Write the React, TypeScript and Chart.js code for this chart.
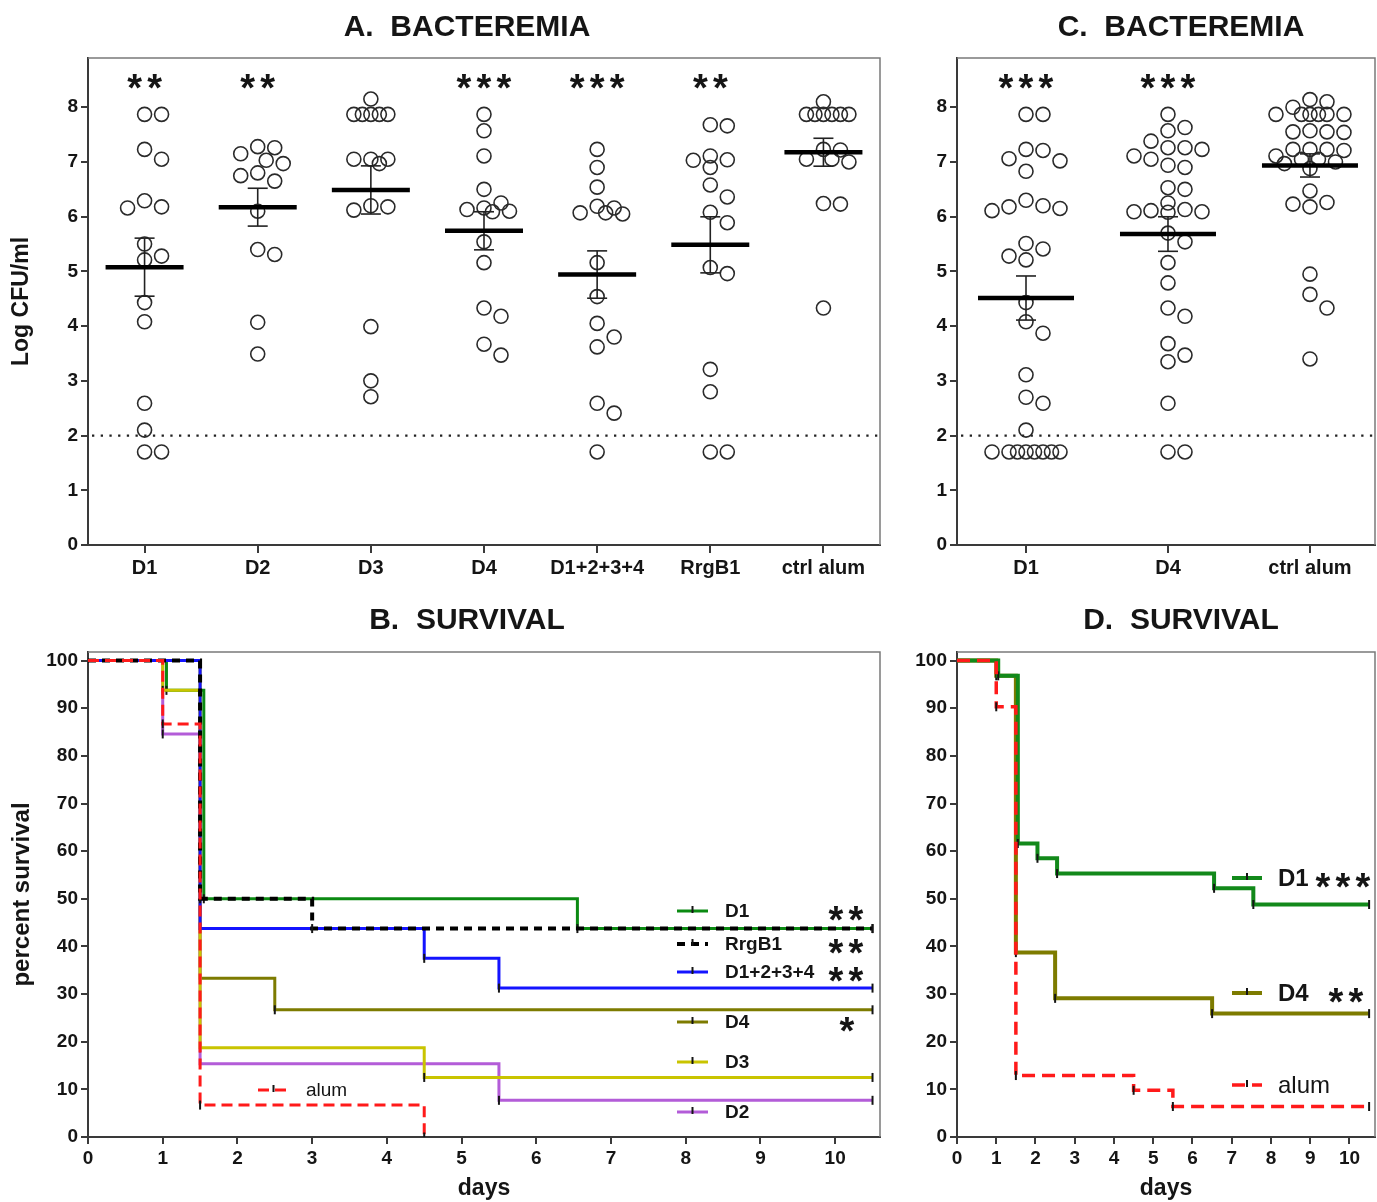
import React, { useEffect, useRef } from "react";
import { Chart, registerables } from "chart.js";

Chart.register(...registerables);

const FONT = "'Liberation Sans', Arial, Helvetica, sans-serif";
const INK = "#151515";
const AXIS = "#3a3a3a";

// ================= A. BACTEREMIA (log CFU/ml per mouse) =================
const catsA = ["D1", "D2", "D3", "D4", "D1+2+3+4", "RrgB1", "ctrl alum"];
const bactA_D1 = [7.87, 7.87, 7.23, 7.05, 6.29, 6.18, 6.16, 5.5, 5.28, 5.21, 4.43, 4.08, 2.59, 2.1, 1.7, 1.7];
const bactA_D2 = [7.28, 7.26, 7.15, 7.03, 6.97, 6.8, 6.75, 6.65, 6.1, 5.4, 5.31, 4.07, 3.49];
const bactA_D3 = [8.15, 7.87, 7.87, 7.87, 7.87, 7.87, 7.05, 7.05, 7.05, 6.97, 6.2, 6.18, 6.12, 3.99, 3.0, 2.71];
const bactA_D4 = [7.87, 7.57, 7.11, 6.5, 6.25, 6.16, 6.13, 6.1, 6.09, 5.54, 5.16, 4.33, 4.18, 3.67, 3.47];
const bactA_D1234 = [7.23, 6.9, 6.54, 6.19, 6.16, 6.07, 6.07, 6.05, 5.16, 4.54, 4.05, 3.8, 3.62, 2.59, 2.41, 1.7];
const bactA_RrgB1 = [7.68, 7.66, 7.11, 7.04, 7.03, 6.9, 6.58, 6.36, 6.08, 5.89, 5.07, 4.96, 3.21, 2.8, 1.7, 1.7];
const bactA_alum = [8.1, 7.87, 7.87, 7.87, 7.87, 7.87, 7.87, 7.23, 7.22, 7.05, 7.05, 7.0, 6.24, 6.23, 4.33];
const starsA = ["**", "**", "", "***", "***", "**", ""];

// ================= C. BACTEREMIA =================
const catsC = ["D1", "D4", "ctrl alum"];
const bactC_D1 = [7.87, 7.87, 7.23, 7.21, 7.06, 7.02, 6.83, 6.3, 6.2, 6.18, 6.15, 6.11, 5.51, 5.41, 5.28, 5.21, 4.43, 4.08, 3.87, 3.11, 2.7, 2.59, 2.1, 1.7, 1.7, 1.7, 1.7, 1.7, 1.7, 1.7, 1.7];
const bactC_D4 = [7.87, 7.63, 7.57, 7.38, 7.26, 7.26, 7.23, 7.11, 7.05, 6.94, 6.9, 6.53, 6.5, 6.25, 6.13, 6.11, 6.09, 6.09, 6.08, 5.7, 5.54, 5.16, 4.79, 4.33, 4.18, 3.68, 3.47, 3.35, 2.59, 1.7, 1.7];
const bactC_alum = [8.14, 8.1, 8.0, 7.87, 7.87, 7.87, 7.87, 7.87, 7.87, 7.57, 7.55, 7.55, 7.54, 7.23, 7.23, 7.23, 7.21, 7.11, 7.05, 7.05, 7.0, 6.97, 6.88, 6.47, 6.26, 6.23, 6.18, 4.95, 4.58, 4.33, 3.4];
const starsC = ["***", "***", ""];

const bactTicks = [0, 1, 2, 3, 4, 5, 6, 7, 8];
const detectionLimit = 2;
const BACT_MAX = 8.9;

// ================= B. SURVIVAL =================
const dayTicks = [0, 1, 2, 3, 4, 5, 6, 7, 8, 9, 10];
const survTicks = [0, 10, 20, 30, 40, 50, 60, 70, 80, 90, 100];

const daysB_alum = [0, 1, 1.5, 4.5];
const survB_alum = [100, 86.7, 6.7, 0];
const daysB_RrgB1 = [0, 1.5, 3, 10.5];
const survB_RrgB1 = [100, 50, 43.75, 43.75];
const daysB_D1234 = [0, 1.5, 4.5, 5.5, 10.5];
const survB_D1234 = [100, 43.75, 37.5, 31.25, 31.25];
const daysB_D3 = [0, 1, 1.5, 4.5, 10.5];
const survB_D3 = [100, 93.75, 18.75, 12.5, 12.5];
const daysB_D2 = [0, 1, 1.5, 5.5, 10.5];
const survB_D2 = [100, 84.6, 15.4, 7.7, 7.7];
const daysB_D4 = [0, 1.5, 2.5, 10.5];
const survB_D4 = [100, 33.3, 26.7, 26.7];
const daysB_D1 = [0, 1.05, 1.55, 6.55, 10.5];
const survB_D1 = [100, 93.75, 50, 43.75, 43.75];
const legendB_labels = ["D1", "RrgB1", "D1+2+3+4", "D4", "D3", "D2", "alum"];
const legendB_stars = ["**", "**", "**", "*", "", "", ""];

// ================= D. SURVIVAL =================
const daysD_alum = [0, 1, 1.5, 4.5, 5.5, 10.5];
const survD_alum = [100, 90.3, 12.9, 9.8, 6.4, 6.4];
const daysD_D1 = [0, 1.05, 1.55, 2.05, 2.55, 6.55, 7.55, 10.5];
const survD_D1 = [100, 96.8, 61.6, 58.5, 55.3, 52.2, 48.8, 48.8];
const daysD_D4 = [0, 1, 1.5, 2.5, 6.5, 10.5];
const survD_D4 = [100, 96.8, 38.7, 29.1, 25.9, 25.9];
const legendD_labels = ["D1", "D4", "alum"];
const legendD_stars = ["***", "**", ""];

// ================= layout =================
type Area = { left: number; top: number; right: number; bottom: number };
type Box = { x: number; y: number; w: number; h: number; area: Area };
const BOX_A: Box = { x: 0, y: 0, w: 895, h: 600, area: { left: 88, top: 58, right: 880, bottom: 545 } };
const BOX_C: Box = { x: 895, y: 0, w: 489, h: 600, area: { left: 62, top: 58, right: 480, bottom: 545 } };
const BOX_B: Box = { x: 0, y: 600, w: 895, h: 602, area: { left: 88, top: 52, right: 880, bottom: 537 } };
const BOX_D: Box = { x: 895, y: 600, w: 489, h: 602, area: { left: 62, top: 52, right: 480, bottom: 537 } };

// ================= helpers =================
function mean(a: number[]) {
  return a.reduce((s, v) => s + v, 0) / a.length;
}
function sem(a: number[]) {
  const m = mean(a);
  const v = a.reduce((s, x) => s + (x - m) * (x - m), 0) / (a.length - 1);
  return Math.sqrt(v) / Math.sqrt(a.length);
}

function swarm(vals: number[], o: { step: number; maxOff: number; pxPerCat: number; pxPerUnit: number; diam: number }) {
  const order = vals.map((_, i) => i).sort((a, b) => vals[b] - vals[a]);
  const cands: number[] = [0];
  for (let k = 1; k * o.step <= o.maxOff + 0.01; k++) cands.push(k * o.step, -k * o.step);
  for (let k = 0; (k + 0.5) * o.step <= o.maxOff + 0.01; k++) cands.push((k + 0.5) * o.step, -(k + 0.5) * o.step);
  const placed: { x: number; y: number }[] = [];
  const out = new Array(vals.length).fill(0);
  for (const i of order) {
    const y = vals[i] * o.pxPerUnit;
    let best = 0;
    let bestD = -1;
    for (const c of cands) {
      let dmin = Infinity;
      for (const p of placed) dmin = Math.min(dmin, Math.hypot(c - p.x, y - p.y));
      if (dmin >= o.diam) {
        best = c;
        break;
      }
      if (dmin > bestD + 0.5) {
        bestD = dmin;
        best = c;
      }
    }
    placed.push({ x: best, y });
    out[i] = best / o.pxPerCat;
  }
  return out;
}

function seg(ctx: CanvasRenderingContext2D, x1: number, y1: number, x2: number, y2: number) {
  ctx.beginPath();
  ctx.moveTo(x1, y1);
  ctx.lineTo(x2, y2);
  ctx.stroke();
}

function drawStars(ctx: CanvasRenderingContext2D, count: number, cx: number, cy: number, gap: number, size: number) {
  if (!count) return;
  ctx.save();
  ctx.font = `bold ${size}px ${FONT}`;
  ctx.fillStyle = INK;
  ctx.textAlign = "center";
  ctx.textBaseline = "alphabetic";
  const m = ctx.measureText("*");
  const base = cy + (m.actualBoundingBoxAscent - m.actualBoundingBoxDescent) / 2;
  for (let k = 0; k < count; k++) ctx.fillText("*", cx + (k - (count - 1) / 2) * gap, base);
  ctx.restore();
}

const framePlugin = {
  id: "frameBox",
  beforeDatasetsDraw(chart: any) {
    const { ctx, chartArea: a } = chart;
    ctx.save();
    ctx.strokeStyle = "#7a7a7a";
    ctx.lineWidth = 1.5;
    ctx.beginPath();
    ctx.moveTo(a.left, a.top);
    ctx.lineTo(a.right, a.top);
    ctx.lineTo(a.right, a.bottom);
    ctx.stroke();
    ctx.restore();
  },
};

function titlePlugin(text: string, x: number, y: number) {
  return {
    id: "panelTitle",
    afterDraw(chart: any) {
      const ctx = chart.ctx;
      ctx.save();
      ctx.font = `bold 30px ${FONT}`;
      ctx.fillStyle = INK;
      ctx.textAlign = "center";
      ctx.textBaseline = "middle";
      ctx.fillText(text, x, y);
      ctx.restore();
    },
  };
}

function layoutFor(box: Box) {
  return { padding: { left: 0, top: box.area.top, right: box.w - box.area.right, bottom: 0 } };
}

const tickFont = { family: FONT, size: 19, weight: "bold" as const };
const catFont = { family: FONT, size: 20, weight: "bold" as const };

function axisBase(tickLen: number) {
  return {
    grid: { display: true, drawOnChartArea: false, drawTicks: true, tickLength: tickLen, color: AXIS, lineWidth: 2 },
    border: { display: true, color: AXIS, width: 2 },
  };
}

// ================= dot plot (A, C) =================
function dotConfig(box: Box, cats: string[], groups: number[][], stars: string[], yTitle: string | null, title: string, titleX: number, maxOffPx: number, xMin: number, xMax: number, meanHalfPx: number): any {
  const a = box.area;
  const pxPerCat = (a.right - a.left) / (xMax - xMin);
  const pxPerUnit = (a.bottom - a.top) / BACT_MAX;
  const points: { x: number; y: number }[] = [];
  groups.forEach((g, i) => {
    const offs = swarm(g, { step: 17, maxOff: maxOffPx, pxPerCat, pxPerUnit, diam: 15 });
    g.forEach((v, j) => points.push({ x: i + offs[j], y: v }));
  });

  const extras = {
    id: "dotExtras",
    beforeDatasetsDraw(chart: any) {
      const { ctx, chartArea } = chart;
      const y = chart.scales.y.getPixelForValue(detectionLimit);
      ctx.save();
      ctx.strokeStyle = "#222";
      ctx.lineWidth = 2.3;
      ctx.setLineDash([2.3, 6.4]);
      seg(ctx, chartArea.left + 4, y, chartArea.right, y);
      ctx.restore();
    },
    afterDatasetsDraw(chart: any) {
      const ctx = chart.ctx;
      const xs = chart.scales.x;
      const ys = chart.scales.y;
      groups.forEach((g, i) => {
        const m = mean(g);
        const s = sem(g);
        const cx = xs.getPixelForValue(i);
        ctx.save();
        ctx.strokeStyle = "#222";
        ctx.lineWidth = 1.6;
        const yt = ys.getPixelForValue(m + s);
        const yb = ys.getPixelForValue(m - s);
        seg(ctx, cx, yt, cx, yb);
        seg(ctx, cx - 10, yt, cx + 10, yt);
        seg(ctx, cx - 10, yb, cx + 10, yb);
        ctx.strokeStyle = "#000";
        ctx.lineWidth = 4.5;
        const my = ys.getPixelForValue(m);
        seg(ctx, cx - meanHalfPx, my, cx + meanHalfPx, my);
        ctx.restore();
        drawStars(ctx, stars[i].length, cx, ys.getPixelForValue(8.47), 20, 38);
      });
    },
  };

  const yAxis: any = {
    min: 0,
    max: BACT_MAX,
    afterBuildTicks: (s: any) => {
      s.ticks = bactTicks.map((v) => ({ value: v }));
    },
    ticks: { font: tickFont, color: INK, padding: 3 },
    ...axisBase(7),
    afterFit: (s: any) => {
      s.width = a.left;
    },
  };
  if (yTitle) {
    yAxis.title = { display: true, text: yTitle, font: { family: FONT, size: 23, weight: "bold" }, color: INK, padding: { top: 8, bottom: 0 } };
  }

  return {
    type: "scatter",
    data: {
      datasets: [
        {
          data: points,
          pointRadius: 7,
          pointHoverRadius: 7,
          pointBorderWidth: 1.6,
          pointBorderColor: "#2a2a2a",
          pointBackgroundColor: "rgba(0,0,0,0)",
        },
      ],
    },
    options: {
      responsive: false,
      animation: false,
      events: [],
      layout: layoutFor(box),
      plugins: { legend: { display: false }, tooltip: { enabled: false }, title: { display: false } },
      scales: {
        x: {
          type: "linear",
          min: xMin,
          max: xMax,
          afterBuildTicks: (s: any) => {
            s.ticks = cats.map((_, i) => ({ value: i }));
          },
          ticks: {
            font: catFont,
            color: INK,
            padding: 3,
            autoSkip: false,
            maxRotation: 0,
            callback: (v: number) => cats[Math.round(v)],
          },
          ...axisBase(8),
          afterFit: (s: any) => {
            s.height = box.h - a.bottom;
          },
        },
        y: yAxis,
      },
    },
    plugins: [framePlugin, extras, titlePlugin(title, titleX, 28)],
  };
}

// ================= survival (B, D) =================
type Series = { label: string; days: number[]; surv: number[]; color: string; width: number; dash: number[] };
type LegendItem = { label: string; stars: string; x: number; y: number; starsX: number; bold: boolean };

function kmConfig(box: Box, series: Series[], xMax: number, yMax: number, yTitle: string | null, title: string, titleX: number, legend: LegendItem[], legendFont: number, sampleLen: number, labelGap: number): any {
  const a = box.area;
  const legendPlugin = {
    id: "kmLegend",
    afterDatasetsDraw(chart: any) {
      const ctx = chart.ctx;
      legend.forEach((it) => {
        const ds = series.find((s) => s.label === it.label)!;
        ctx.save();
        ctx.strokeStyle = ds.color;
        ctx.lineWidth = ds.width;
        ctx.setLineDash(ds.dash);
        seg(ctx, it.x, it.y, it.x + sampleLen, it.y);
        ctx.setLineDash([]);
        ctx.strokeStyle = INK;
        ctx.lineWidth = 2;
        const mid = it.x + sampleLen / 2;
        seg(ctx, mid, it.y - 5, mid, it.y + 2);
        ctx.fillStyle = INK;
        ctx.font = `${it.bold ? "bold " : ""}${legendFont}px ${FONT}`;
        ctx.textAlign = "left";
        ctx.textBaseline = "middle";
        ctx.fillText(it.label, it.x + labelGap, it.y + 1);
        ctx.restore();
        drawStars(ctx, it.stars.length, it.starsX, it.y + 2, 20, 38);
      });
    },
  };

  const yAxis: any = {
    min: 0,
    max: yMax,
    afterBuildTicks: (s: any) => {
      s.ticks = survTicks.map((v) => ({ value: v }));
    },
    ticks: { font: tickFont, color: INK, padding: 3 },
    ...axisBase(7),
    afterFit: (s: any) => {
      s.width = a.left;
    },
  };
  if (yTitle) {
    yAxis.title = { display: true, text: yTitle, font: { family: FONT, size: 24, weight: "bold" }, color: INK, padding: { top: 8, bottom: 0 } };
  }

  return {
    type: "line",
    data: {
      datasets: series.map((s) => ({
        label: s.label,
        data: s.days.map((d, i) => ({ x: d, y: s.surv[i] })),
        stepped: "before",
        borderColor: s.color,
        borderWidth: s.width,
        borderDash: s.dash,
        borderCapStyle: "butt",
        fill: false,
        tension: 0,
        pointStyle: "line",
        rotation: 90,
        pointRadius: (c: any) => (c.dataIndex === 0 ? 0 : 4.5),
        pointHoverRadius: 0,
        pointBorderColor: INK,
        pointBorderWidth: 2,
        pointBackgroundColor: INK,
      })),
    },
    options: {
      responsive: false,
      animation: false,
      events: [],
      layout: layoutFor(box),
      plugins: { legend: { display: false }, tooltip: { enabled: false }, title: { display: false } },
      scales: {
        x: {
          type: "linear",
          min: 0,
          max: xMax,
          afterBuildTicks: (s: any) => {
            s.ticks = dayTicks.map((v) => ({ value: v }));
          },
          ticks: { font: tickFont, color: INK, padding: 3, autoSkip: false, maxRotation: 0 },
          ...axisBase(7),
          title: { display: true, text: "days", font: { family: FONT, size: 23, weight: "bold" }, color: INK, padding: { top: 0, bottom: 0 } },
          afterFit: (s: any) => {
            s.height = box.h - a.bottom;
          },
        },
        y: yAxis,
      },
    },
    plugins: [framePlugin, legendPlugin, titlePlugin(title, titleX, 21)],
  };
}

const seriesB: Series[] = [
  { label: "alum", days: daysB_alum, surv: survB_alum, color: "#ff1a1a", width: 3, dash: [11, 6] },
  { label: "RrgB1", days: daysB_RrgB1, surv: survB_RrgB1, color: "#000000", width: 4, dash: [8, 6] },
  { label: "D1+2+3+4", days: daysB_D1234, surv: survB_D1234, color: "#1414ff", width: 3, dash: [] },
  { label: "D3", days: daysB_D3, surv: survB_D3, color: "#c9c400", width: 3, dash: [] },
  { label: "D2", days: daysB_D2, surv: survB_D2, color: "#b35cd8", width: 3, dash: [] },
  { label: "D4", days: daysB_D4, surv: survB_D4, color: "#7d7b00", width: 3, dash: [] },
  { label: "D1", days: daysB_D1, surv: survB_D1, color: "#0b8a12", width: 3, dash: [] },
];

const seriesD: Series[] = [
  { label: "alum", days: daysD_alum, surv: survD_alum, color: "#ff1a1a", width: 3.5, dash: [13, 7] },
  { label: "D1", days: daysD_D1, surv: survD_D1, color: "#12891a", width: 4, dash: [] },
  { label: "D4", days: daysD_D4, surv: survD_D4, color: "#7d7b00", width: 4, dash: [] },
];

const legendPosB = [
  { x: 677, y: 311 },
  { x: 677, y: 344 },
  { x: 677, y: 372 },
  { x: 677, y: 422 },
  { x: 677, y: 462 },
  { x: 677, y: 512 },
  { x: 258, y: 490 },
];
const legendB: LegendItem[] = legendB_labels.map((l, i) => ({
  label: l,
  stars: legendB_stars[i],
  x: legendPosB[i].x,
  y: legendPosB[i].y,
  starsX: l === "D4" ? 847 : 846,
  bold: l !== "alum",
}));

const legendPosD = [
  { x: 337, y: 278, sx: 448 },
  { x: 337, y: 393, sx: 451 },
  { x: 337, y: 485, sx: 0 },
];
const legendD: LegendItem[] = legendD_labels.map((l, i) => ({
  label: l,
  stars: legendD_stars[i],
  x: legendPosD[i].x,
  y: legendPosD[i].y,
  starsX: legendPosD[i].sx,
  bold: l !== "alum",
}));

function ChartCanvas({ box, make }: { box: Box; make: () => any }) {
  const ref = useRef<HTMLCanvasElement>(null);
  useEffect(() => {
    const chart = new Chart(ref.current as HTMLCanvasElement, make());
    return () => chart.destroy();
  }, []);
  return (
    <canvas
      ref={ref}
      width={box.w}
      height={box.h}
      style={{ position: "absolute", left: box.x, top: box.y, width: box.w, height: box.h }}
    />
  );
}

export default function App() {
  return (
    <div style={{ position: "absolute", left: 0, top: 0, width: 1377, height: 1202, background: "#fff", overflow: "hidden" }}>
      <ChartCanvas
        box={BOX_A}
        make={() =>
          dotConfig(
            BOX_A,
            catsA,
            [bactA_D1, bactA_D2, bactA_D3, bactA_D4, bactA_D1234, bactA_RrgB1, bactA_alum],
            starsA,
            "Log CFU/ml",
            "A.  BACTEREMIA",
            467,
            26,
            -0.5,
            6.5,
            39
          )
        }
      />
      <ChartCanvas
        box={BOX_C}
        make={() => dotConfig(BOX_C, catsC, [bactC_D1, bactC_D4, bactC_alum], starsC, null, "C.  BACTEREMIA", 286, 36, -0.486, 2.458, 48)}
      />
      <ChartCanvas
        box={BOX_B}
        make={() => kmConfig(BOX_B, seriesB, 10.6, 101.8, "percent survival", "B.  SURVIVAL", 467, legendB, 19, 31, 48)}
      />
      <ChartCanvas
        box={BOX_D}
        make={() => kmConfig(BOX_D, seriesD, 10.65, 101.8, null, "D.  SURVIVAL", 286, legendD, 24, 30, 46)}
      />
    </div>
  );
}
